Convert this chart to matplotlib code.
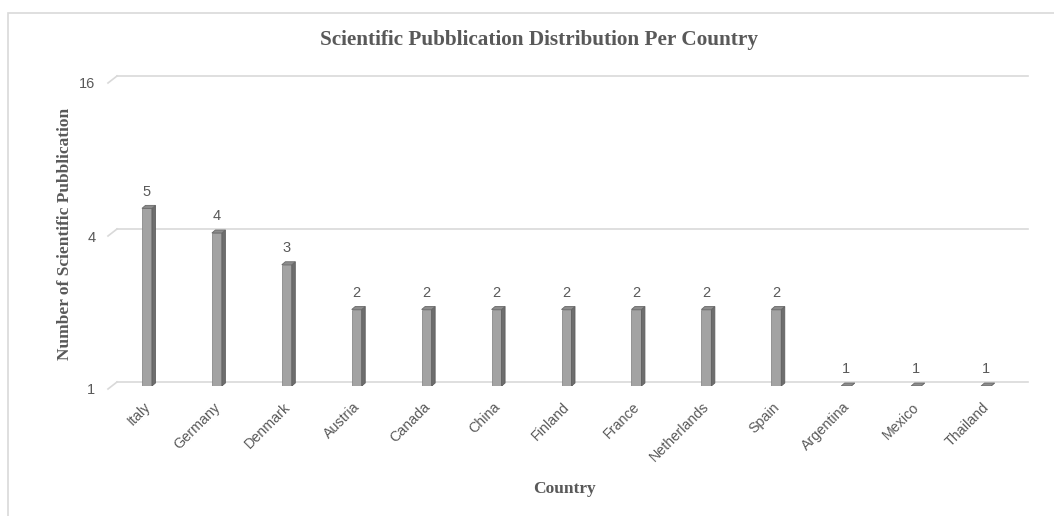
import numpy as np
import matplotlib
matplotlib.use("Agg")
import matplotlib.pyplot as plt
from matplotlib.patches import Polygon, Rectangle
from matplotlib.lines import Line2D
import matplotlib.transforms as mtransforms

paises = ["Italy", "Germany", "Denmark", "Austria", "Canada", "China", "Finland",
          "France", "Netherlands", "Spain", "Argentina", "Mexico", "Thailand"]
publicacoes = [5, 4, 3, 2, 2, 2, 2, 2, 2, 2, 1, 1, 1]
ticks_y = [1, 4, 16]

COR_TEXTO = "#595959"
COR_GRADE = "#d9d9d9"
FRENTE = "#a3a3a3"
LADO = "#6e6e6e"
TOPO = "#8c8c8c"

W, H = 1054, 516
fig = plt.figure(figsize=(W / 100, H / 100), dpi=100)

# moldura clara em volta do grafico
fig.add_artist(Rectangle((8 / W, -0.01), 1.1, 1 - 13 / H + 0.01, transform=fig.transFigure,
                         fill=False, edgecolor="#d9d9d9", linewidth=1.2))

esq, dir_, base, topo = 112, 1021, 386, 80
ax = fig.add_axes([esq / W, 1 - base / H, (dir_ - esq) / W, (base - topo) / H])
ax.set_yscale("log", base=4)
ax.set_ylim(1, 16)
ax.set_xlim(-0.5, len(paises) - 0.5)
for s in ax.spines.values():
    s.set_visible(False)
ax.patch.set_alpha(0)

px_x = (dir_ - esq) / len(paises)      # pixels por categoria
px_dec = (base - topo) / 2.0            # pixels por potencia de 4

# linhas de grade na parede do fundo, com o pequeno trecho inclinado do piso
recuo = mtransforms.ScaledTranslation(0, 4 / 100, fig.dpi_scale_trans)
frente = mtransforms.ScaledTranslation(0, -3 / 100, fig.dpi_scale_trans)
trans_g = mtransforms.blended_transform_factory(ax.transAxes, ax.transData)
x0 = 5 / (dir_ - esq)
for t in ticks_y:
    ax.add_line(Line2D([x0, 1.008], [t, t], color=COR_GRADE, lw=1.2,
                       transform=trans_g + recuo, clip_on=False, zorder=0))
    p0 = trans_g.transform((-4 / (dir_ - esq), t)) + np.array([0, -3])
    p1 = trans_g.transform((x0, t)) + np.array([0, 4])
    ax.add_line(Line2D([p0[0], p1[0]], [p0[1], p1[1]], color=COR_GRADE, lw=1.2,
                       transform=None, clip_on=False, zorder=0))

# barras com efeito 3D: face da frente, lateral e topo
larg = 10 / px_x
dx = 3.5 / px_x
fy = 4 ** (3 / px_dec)
for i, v in enumerate(publicacoes):
    xl = i - larg / 2
    xr = i + larg / 2
    ax.add_patch(Polygon([(xl, 1), (xr, 1), (xr, v), (xl, v)], closed=True,
                         facecolor=FRENTE, edgecolor="#8a8a8a", lw=0.6, zorder=3))
    ax.add_patch(Polygon([(xr, 1), (xr + dx, 1 * fy), (xr + dx, v * fy), (xr, v)], closed=True,
                         facecolor=LADO, edgecolor="#5e5e5e", lw=0.6, zorder=3))
    ax.add_patch(Polygon([(xl, v), (xr, v), (xr + dx, v * fy), (xl + dx, v * fy)], closed=True,
                         facecolor=TOPO, edgecolor="#6a6a6a", lw=0.6, zorder=4))
    ax.annotate(str(v), (i, v), xytext=(0, 12), textcoords="offset points",
                ha="center", va="center", fontsize=10.5, color=COR_TEXTO,
                family="Liberation Sans")

ax.set_yticks(ticks_y)
ax.set_yticklabels([str(t) for t in ticks_y])
ax.yaxis.set_minor_locator(matplotlib.ticker.NullLocator())
ax.tick_params(axis="y", length=0, pad=12, labelsize=10.5, labelcolor=COR_TEXTO)
for lb in ax.get_yticklabels():
    lb.set_family("Liberation Sans")
    lb.set_transform(lb.get_transform() + frente)

ax.set_xticks(range(len(paises)))
ax.set_xticklabels(paises, rotation=45, ha="right", rotation_mode="anchor")
ax.tick_params(axis="x", length=0, pad=10, labelsize=10.3, labelcolor=COR_TEXTO)
desloc = mtransforms.ScaledTranslation(-4 / 100, 0, fig.dpi_scale_trans)
for lb in ax.get_xticklabels():
    lb.set_family("Liberation Sans")
    lb.set_transform(lb.get_transform() + desloc)

fig.text(539 / W, 1 - 40 / H, "Scientific Pubblication Distribution Per Country",
         ha="center", va="center", fontsize=15.3, fontweight="bold",
         family="Liberation Serif", color=COR_TEXTO)
fig.text(565 / W, 1 - 489 / H, "Country", ha="center", va="center", fontsize=12.5,
         fontweight="bold", family="Liberation Serif", color=COR_TEXTO)
fig.text(65 / W, 1 - 234 / H, "Number of Scientific Pubblication", ha="center", va="center",
         rotation=90, fontsize=12.5, fontweight="bold", family="Liberation Serif",
         color=COR_TEXTO)

fig.savefig("out.png", dpi=100)
